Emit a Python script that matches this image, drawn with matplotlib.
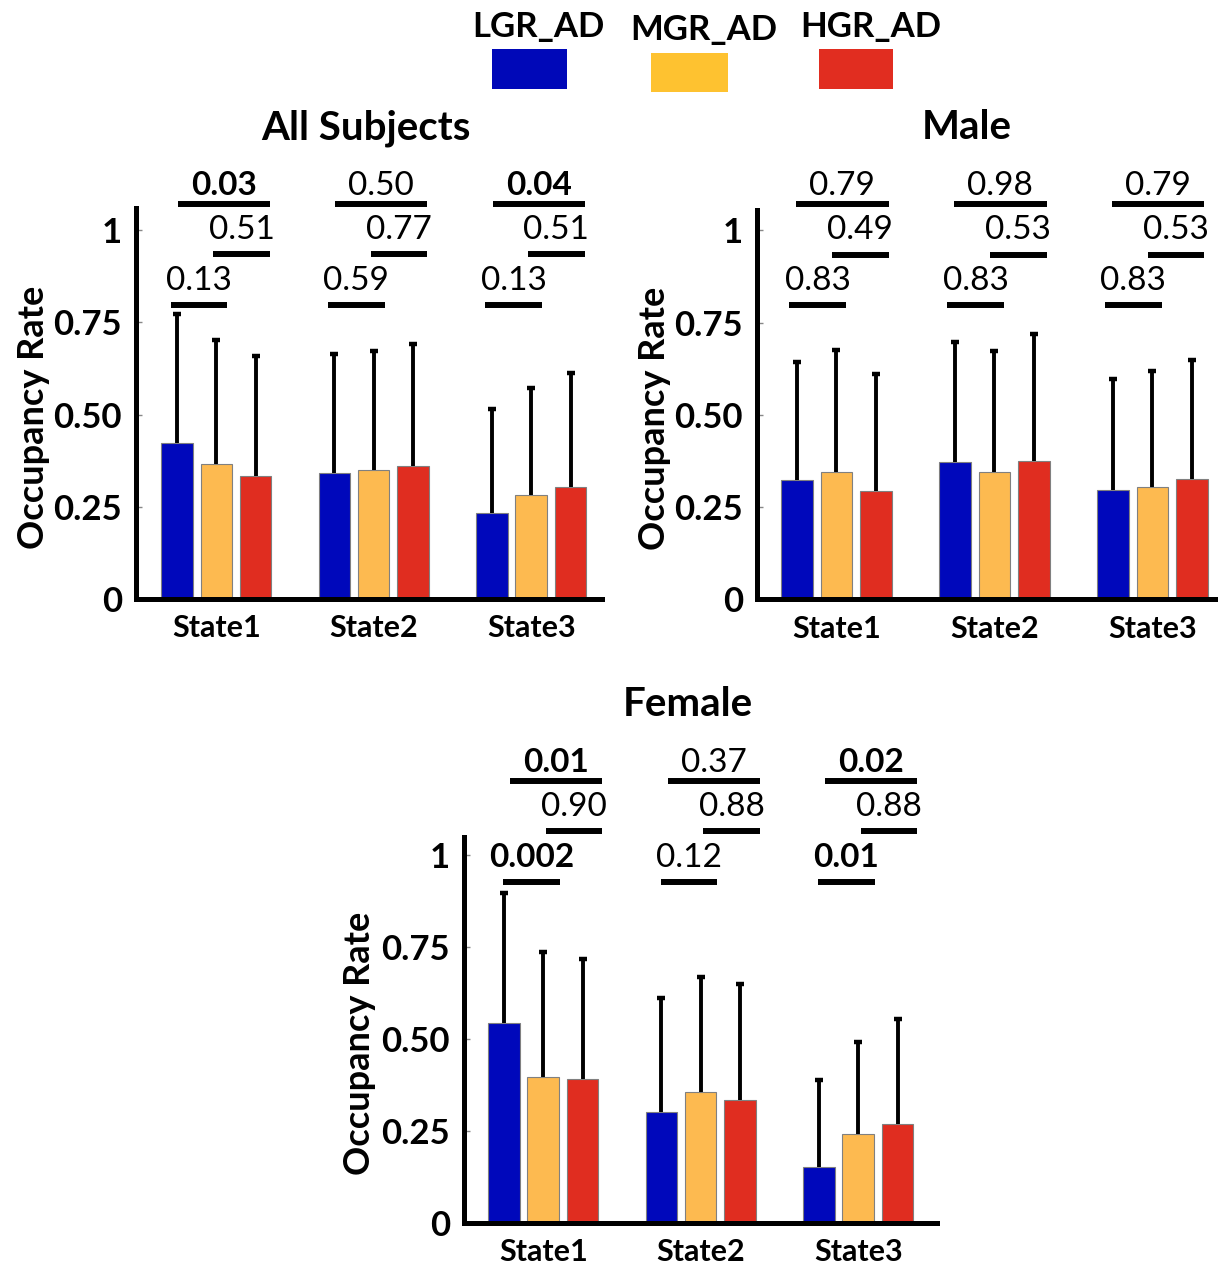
import matplotlib
matplotlib.use("Agg")
import matplotlib.pyplot as plt
import matplotlib.transforms as mtrans
from matplotlib.patches import Rectangle
import numpy as np

plt.rcParams['font.family'] = ['Lato', 'DejaVu Sans']

states = ["State1", "State2", "State3"]
groups = ["LGR_AD", "MGR_AD", "HGR_AD"]
bar_colors = ["#0008BB", "#FDBA50", "#E02D20"]
legend_colors = ["#0008B8", "#FEC230", "#E12D20"]

# mean occupancy rate, rows = group (LGR, MGR, HGR), cols = state
all_mean = [[0.424, 0.342, 0.232], [0.365, 0.351, 0.282], [0.333, 0.360, 0.304]]
all_sd = [[0.348, 0.321, 0.282], [0.337, 0.321, 0.291], [0.326, 0.332, 0.309]]
male_mean = [[0.324, 0.373, 0.297], [0.344, 0.346, 0.306], [0.294, 0.375, 0.327]]
male_sd = [[0.319, 0.324, 0.300], [0.332, 0.326, 0.314], [0.317, 0.345, 0.322]]
female_mean = [[0.543, 0.302, 0.151], [0.396, 0.357, 0.242], [0.390, 0.334, 0.269]]
female_sd = [[0.353, 0.309, 0.238], [0.341, 0.311, 0.251], [0.327, 0.315, 0.285]]

# p-values, rows = LGR vs HGR, MGR vs HGR, LGR vs MGR
all_p = [["0.03", "0.50", "0.04"], ["0.51", "0.77", "0.51"], ["0.13", "0.59", "0.13"]]
male_p = [["0.79", "0.98", "0.79"], ["0.49", "0.53", "0.53"], ["0.83", "0.83", "0.83"]]
female_p = [["0.01", "0.37", "0.02"], ["0.90", "0.88", "0.88"], ["0.002", "0.12", "0.01"]]

W, H = 1218, 1273


def pos(left, right, zero, top):
    return [left / W, 1 - zero / H, (right - left) / W, (zero - top) / H]


fig = plt.figure(figsize=(W / 100, H / 100), dpi=100)

# legend: labels above coloured boxes
leg_text = [(538, 37), (704, 40), (871, 37)]
leg_box = [(492, 567, 49, 89), (651, 728, 53, 92), (819, 893, 49, 89)]
for g, c, (tx, ty), (x0, x1, y0, y1) in zip(groups, legend_colors, leg_text, leg_box):
    fig.text(tx / W, 1 - ty / H, g, ha='center', va='baseline', fontsize=25, fontweight='bold')
    fig.add_artist(Rectangle((x0 / W, 1 - y1 / H), (x1 - x0) / W, (y1 - y0) / H,
                             transform=fig.transFigure, facecolor=c, edgecolor='none'))

panels = [
    ("All Subjects", pos(136, 602, 599, 208), (0.49, 3.45), 1.06, all_mean, all_sd, all_p, 0.797, 0.0, 0.494),
    ("Male", pos(757, 1225, 599.5, 210), (0.497, 3.46), 1.055, male_mean, male_sd, male_p, 0.797, -0.01, 0.449),
    ("Female", pos(464, 937, 1223, 837), (0.497, 3.5), 1.049, female_mean, female_sd, female_p, 0.927, 0.035, 0.473),
]

x = np.arange(1, 4)
offsets = [-0.25, 0, 0.25]
# sig line layout: (level above base, left, right, text offset in pt)
sig_layout = [(0.273, -0.245, 0.34, 6.5), (0.137, -0.02, 0.34, 11), (0.0, -0.29, 0.07, 11)]

for title, rect, xlim, ytop, mean, sd, pv, base, shift, tx in panels:
    ax = fig.add_axes(rect)
    for i in range(3):
        m = np.array(mean[i])
        ax.bar(x + offsets[i], m, width=0.2, color=bar_colors[i], edgecolor='#808080', linewidth=0.8, zorder=2)
        eb = ax.errorbar(x + offsets[i], m, yerr=[np.zeros(3), sd[i]], fmt='none', ecolor='black',
                         elinewidth=2.8, capsize=3, capthick=3.2, zorder=3)
        for cl in eb[1]:
            if np.allclose(cl.get_ydata(), m):
                cl.set_visible(False)

    for (dy, a, b, off), row in zip(sig_layout, pv):
        for j in range(3):
            x0, x1 = x[j] + shift + a, x[j] + shift + b
            ax.plot([x0, x1], [base + dy] * 2, color='black', lw=4.3, solid_capstyle='butt', clip_on=False)
            ax.annotate(row[j], ((x0 + x1) / 2, base + dy), xytext=(0, off), textcoords='offset points',
                        ha='center', va='baseline', fontsize=24, annotation_clip=False,
                        fontweight='bold' if float(row[j]) < 0.05 else 'normal')

    trans = mtrans.blended_transform_factory(ax.transAxes, ax.transData)
    ax.text(tx, base + 0.45, title, transform=trans, ha='center', va='baseline', fontsize=29, fontweight='bold')
    ax.text(-0.22, 0.465, "Occupancy Rate", transform=ax.transAxes, rotation=90, ha='center', va='center',
            fontsize=26, fontweight='bold')

    ax.set_xlim(*xlim)
    ax.set_ylim(0, ytop)
    ax.set_xticks(x)
    ax.set_xticklabels(states, fontsize=22, fontweight='bold')
    ax.set_yticks([0, 0.25, 0.5, 0.75, 1])
    ax.set_yticklabels(["0", "0.25", "0.50", "0.75", "1"], fontsize=25, fontweight='bold')
    ax.tick_params(axis='x', length=0, pad=11)
    ax.tick_params(axis='y', direction='in', length=4, width=1, color='#888888', pad=10)
    for s in ['top', 'right']:
        ax.spines[s].set_visible(False)
    for s in ['left', 'bottom']:
        ax.spines[s].set_linewidth(3.6)
    ax.patch.set_alpha(0)

fig.savefig("out.png", dpi=100)
plt.close()
